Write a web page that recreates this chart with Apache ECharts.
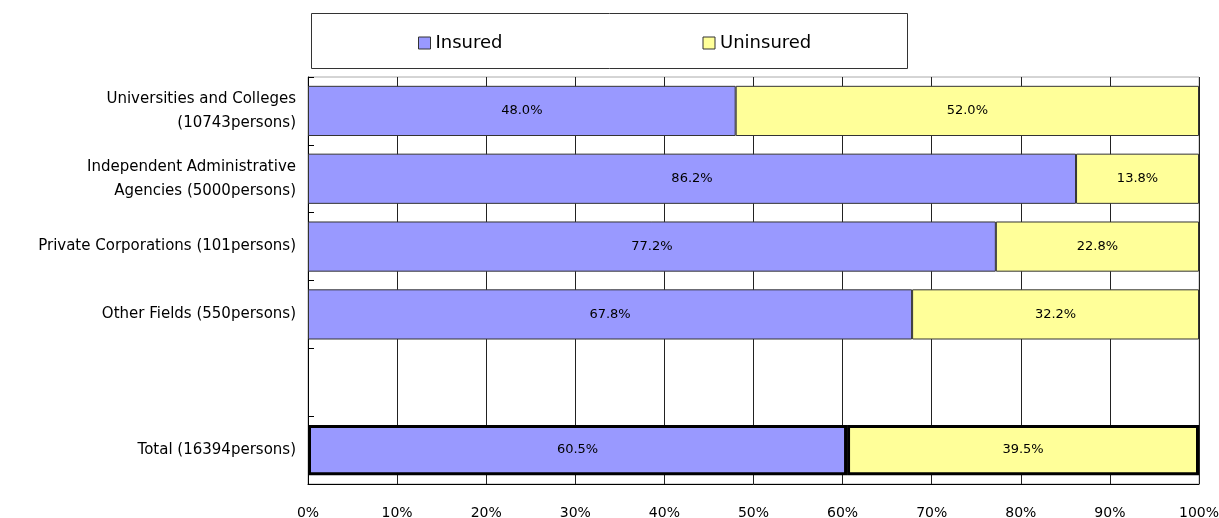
<!DOCTYPE html>
<html>
<head>
<meta charset="utf-8">
<script src="https://cdn.jsdelivr.net/npm/echarts@6/dist/echarts.min.js"></script>
<style>
  html, body { margin: 0; padding: 0; background: #fff; }
  #chart { width: 1219px; height: 518px; }
</style>
</head>
<body>
<div id="chart"></div>
<script>
// categories (top to bottom), blank slot before Total
var categories = [
  'Universities and Colleges\n(10743persons)',
  'Independent Administrative\nAgencies (5000persons)',
  'Private Corporations (101persons)',
  'Other Fields (550persons)',
  '',
  'Total (16394persons)'
];
var insured = [48.0, 86.2, 77.2, 67.8, null, 60.5];
var uninsured = [52.0, 13.8, 22.8, 32.2, null, 39.5];
var seriesNames = ['Insured', 'Uninsured'];

var font = 'DejaVu Sans';

function toItems(arr) {
  // the Total bar gets a heavy outline
  return arr.map(function (v, i) {
    if (i === arr.length - 1) {
      return { value: v, itemStyle: { borderWidth: 3, borderColor: '#000' } };
    }
    return v;
  });
}

var chart = echarts.init(document.getElementById('chart'));

var labelOpt = {
  show: true,
  position: 'inside',
  color: '#000',
  fontFamily: font,
  fontSize: 13,
  formatter: function (p) { return p.value.toFixed(1) + '%'; }
};

var option = {
  animation: false,
  graphic: [{
    type: 'rect',
    shape: { x: 311.5, y: 13.5, width: 596, height: 55 },
    style: { fill: '#fff', stroke: '#333', lineWidth: 1 },
    z: -1
  }],
  legend: {
    data: seriesNames,
    left: 413,
    top: 29,
    itemWidth: 12,
    itemHeight: 12,
    itemGap: 200,
    icon: 'rect',
    itemStyle: { borderColor: '#333', borderWidth: 1 },
    textStyle: { fontFamily: font, fontSize: 18, color: '#000' }
  },
  grid: {
    left: 308,
    right: 20,
    top: 77,
    bottom: 34,
    show: true,
    borderColor: '#aaa',
    borderWidth: 1,
    outerBoundsMode: 'none'
  },
  xAxis: {
    type: 'value',
    min: 0,
    max: 100,
    interval: 10,
    axisLine: { show: true, lineStyle: { color: '#000' } },
    axisTick: { show: false },
    splitLine: { show: true, lineStyle: { color: '#222', width: 1 } },
    axisLabel: {
      formatter: '{value}%',
      margin: 22,
      color: '#000',
      fontFamily: font,
      fontSize: 14
    }
  },
  yAxis: {
    type: 'category',
    data: categories,
    inverse: true,
    axisLine: { show: true, lineStyle: { color: '#000' } },
    axisTick: { show: true, inside: true, length: 6, lineStyle: { color: '#000' } },
    axisLabel: {
      margin: 12,
      color: '#000',
      fontFamily: font,
      fontSize: 15,
      lineHeight: 24,
      align: 'right'
    }
  },
  series: [
    {
      name: seriesNames[0],
      type: 'bar',
      stack: 'total',
      barWidth: '74%',
      data: toItems(insured),
      itemStyle: { color: '#9999FF', borderColor: '#333', borderWidth: 1 },
      label: labelOpt
    },
    {
      name: seriesNames[1],
      type: 'bar',
      stack: 'total',
      barWidth: '74%',
      data: toItems(uninsured),
      itemStyle: { color: '#FFFF99', borderColor: '#333', borderWidth: 1 },
      label: labelOpt
    }
  ]
};

chart.setOption(option);
</script>
</body>
</html>
